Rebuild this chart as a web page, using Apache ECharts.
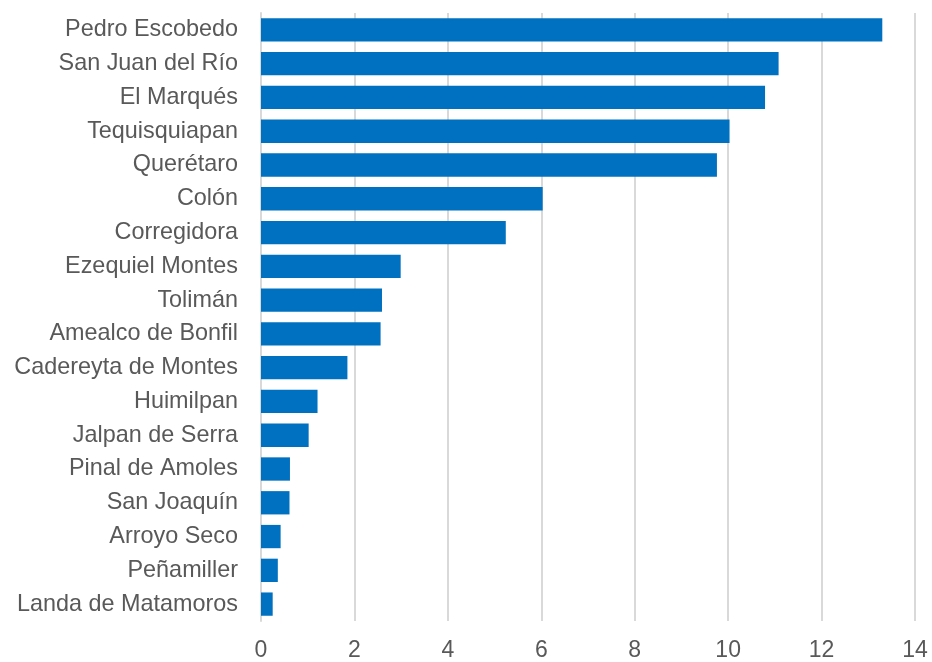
<!DOCTYPE html>
<html>
<head>
<meta charset="utf-8">
<script src="https://cdn.jsdelivr.net/npm/echarts@6/dist/echarts.min.js"></script>
<style>
    html, body { margin: 0; padding: 0; background: #fff; }
    #chart { width: 932px; height: 662px; }
</style>
</head>
<body>
<div id="chart"></div>
<script>
// municipios, listed bottom to top (category axis starts at the bottom)
const municipios = [
    'Landa de Matamoros', 'Peñamiller', 'Arroyo Seco', 'San Joaquín',
    'Pinal de Amoles', 'Jalpan de Serra', 'Huimilpan', 'Cadereyta de Montes',
    'Amealco de Bonfil', 'Tolimán', 'Ezequiel Montes', 'Corregidora',
    'Colón', 'Querétaro', 'Tequisquiapan', 'El Marqués',
    'San Juan del Río', 'Pedro Escobedo',
];

const valores = [
    0.25, 0.36, 0.42, 0.61,
    0.62, 1.02, 1.21, 1.85,
    2.56, 2.59, 2.99, 5.24,
    6.03, 9.76, 10.03, 10.79,
    11.08, 13.3,
];

const xMin = 0;
const xMax = 14;
const xStep = 2;

const TEXT_COLOR = '#595959';
const GRID_COLOR = '#D9D9D9';
const BAR_COLOR = '#0070C0';
const FONT = '"Liberation Sans", Arial, sans-serif';

const chart = echarts.init(document.getElementById('chart'), null, { renderer: 'canvas' });

chart.setOption({
    backgroundColor: '#fff',
    animation: false,
    grid: { left: 261, right: 17, top: 13, bottom: 41, containLabel: false },
    xAxis: {
        type: 'value',
        min: xMin, max: xMax, interval: xStep,
        axisLine: { show: false },
        axisTick: { show: false },
        axisLabel: { color: TEXT_COLOR, fontSize: 23, fontFamily: FONT, margin: 18 },
        splitLine: { lineStyle: { color: GRID_COLOR, width: 2 } },
    },
    yAxis: {
        type: 'category',
        data: municipios,
        axisLine: { show: true, lineStyle: { color: GRID_COLOR, width: 2 } },
        axisTick: { show: false },
        axisLabel: { color: TEXT_COLOR, fontSize: 23.4, fontFamily: FONT, margin: 23 },
    },
    series: [{
        type: 'bar',
        data: valores,
        barCategoryGap: '31%',
        itemStyle: { color: BAR_COLOR },
    }],
});
</script>
</body>
</html>
